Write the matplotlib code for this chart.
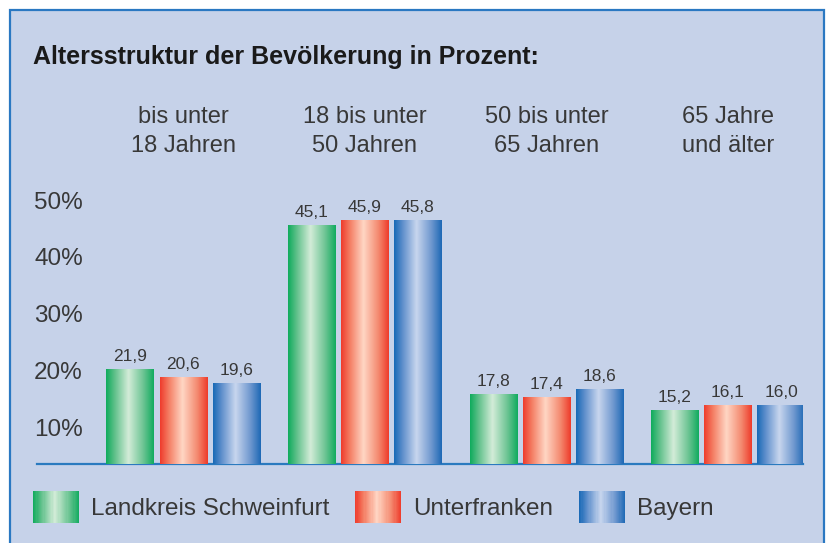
import matplotlib
matplotlib.use("Agg")
import matplotlib.pyplot as plt
import numpy as np
from matplotlib.colors import LinearSegmentedColormap
from matplotlib.legend_handler import HandlerBase
from matplotlib.patches import Rectangle, Patch

plt.rcParams['font.family'] = ['Liberation Sans', 'DejaVu Sans']

# Daten
kategorien = ["bis unter\n18 Jahren", "18 bis unter\n50 Jahren",
              "50 bis unter\n65 Jahren", "65 Jahre\nund älter"]
serien = ["Landkreis Schweinfurt", "Unterfranken", "Bayern"]
schweinfurt = [21.9, 45.1, 17.8, 15.2]
unterfranken = [20.6, 45.9, 17.4, 16.1]
bayern = [19.6, 45.8, 18.6, 16.0]
tick_labels = [10, 20, 30, 40, 50]

werte = [schweinfurt, unterfranken, bayern]

# Farbverlaeufe (dunkel - hell - dunkel)
verlaeufe = [
    ["#0eab5c", "#5fc08a", "#d3ecd8", "#6cc493", "#10ab5f"],
    ["#ef3b2c", "#f47c62", "#ffd6c4", "#f48a70", "#ee3a2a"],
    ["#1769b6", "#5f8fcc", "#c8d6ee", "#6f98cf", "#1d68b5"],
]
cmaps = [LinearSegmentedColormap.from_list("g%d" % i,
         list(zip([0, 0.18, 0.47, 0.78, 1], c))) for i, c in enumerate(verlaeufe)]

BG = "#c6d2e9"
TXT = "#383838"

fig = plt.figure(figsize=(8.29, 5.43), dpi=100)
fig.patch.set_facecolor("white")
fig.add_artist(Rectangle((10 / 829, -0.02), 814 / 829, 1 - 10 / 543 + 0.02,
                         transform=fig.transFigure, facecolor=BG,
                         edgecolor="#2a78c2", lw=1.6, zorder=0))

fig.text(33 / 829, 1 - 57 / 543, "Altersstruktur der Bevölkerung in Prozent:",
         fontsize=18, fontweight="bold", color="#1a1a1a", va="center")

ax = fig.add_axes([37 / 829, (543 - 464) / 543, 766 / 829, 304 / 543])
ax.set_facecolor("none")

x = np.arange(len(kategorien))
breite = 0.259
abstand = 0.292
grad = np.linspace(0, 1, 256).reshape(1, -1)

for i, (name, vals) in enumerate(zip(serien, werte)):
    bars = ax.bar(x + (i - 1) * abstand, vals, breite, color=verlaeufe[i][0],
                  label=name, zorder=2)
    for b in bars:
        x0, y0 = b.get_x(), b.get_y()
        ax.imshow(grad, extent=(x0, x0 + b.get_width(), y0, y0 + b.get_height()),
                  aspect="auto", cmap=cmaps[i], zorder=3, interpolation="bilinear")
    ax.bar_label(bars, labels=[f"{v:.1f}".replace(".", ",") for v in vals],
                 padding=4, fontsize=12.5, color=TXT)

ax.set_xlim(-0.804, 3.413)
ax.set_ylim(6.65, 55.58)

# Kategorien oben
ax.set_xticks(x)
ax.set_xticklabels(kategorien, fontsize=17, color=TXT, linespacing=1.45)
ax.xaxis.set_ticks_position("top")
ax.tick_params(axis="x", length=0, pad=2)

for s in ["top", "left", "right"]:
    ax.spines[s].set_visible(False)
ax.spines["bottom"].set_color("#2a7abf")
ax.spines["bottom"].set_linewidth(1.6)
ax.set_yticks([])

# Prozent-Beschriftung (wie im Original leicht anders skaliert)
def zu_label(v):
    return 10 + (v - 12.45) * 40 / (49.14 - 12.45)

def von_label(l):
    return 12.45 + (l - 10) * (49.14 - 12.45) / 40

sec = ax.secondary_yaxis("left", functions=(zu_label, von_label))
sec.set_yticks(tick_labels)
sec.set_yticklabels([f"{t}%" for t in tick_labels], fontsize=17.5, color=TXT)
sec.tick_params(axis="y", length=0, pad=-33)
sec.spines["left"].set_visible(False)


class VerlaufHandler(HandlerBase):
    def __init__(self, cmap):
        super().__init__()
        self.cmap = cmap

    def create_artists(self, legend, orig_handle, xdescent, ydescent,
                       width, height, fontsize, trans):
        n = 40
        arts = []
        for k in range(n):
            arts.append(Rectangle((-xdescent + k * width / n, -ydescent - 3),
                                  width / n * 1.05, height + 5,
                                  facecolor=self.cmap((k + 0.5) / n),
                                  edgecolor="none", transform=trans))
        return arts


proxies = [Patch(label=s) for s in serien]
leg = fig.legend(handles=proxies, labels=serien,
                 handler_map={p: VerlaufHandler(c) for p, c in zip(proxies, cmaps)},
                 loc="center left", bbox_to_anchor=(33 / 829, 1 - 507 / 543),
                 ncol=3, frameon=False, fontsize=17.5, borderpad=0, borderaxespad=0,
                 handlelength=1.9, handleheight=1.2, handletextpad=0.5,
                 columnspacing=1.05)
for t in leg.get_texts():
    t.set_color(TXT)

fig.savefig("out.png", dpi=100, facecolor=fig.get_facecolor())
